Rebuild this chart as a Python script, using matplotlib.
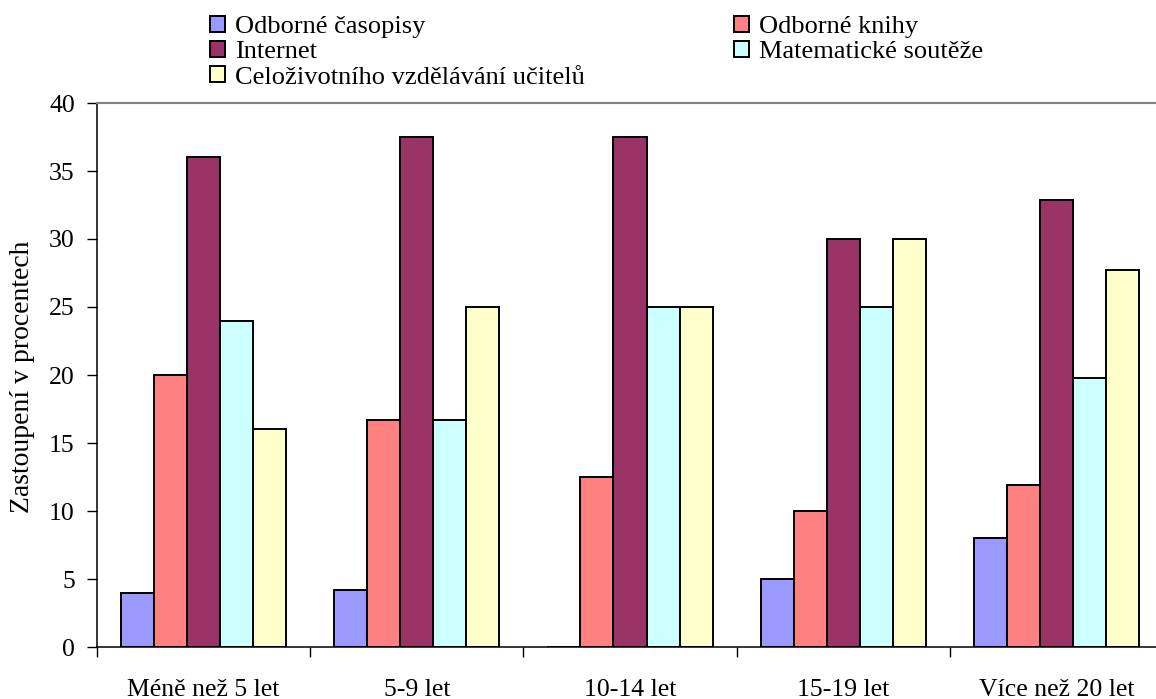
import matplotlib
matplotlib.use('Agg')
import matplotlib.pyplot as plt
import numpy as np

# Groups by length of teaching practice
categories = ['Méně než 5 let', '5-9 let', '10-14 let', '15-19 let', 'Více než 20 let']

series_names = ['Odborné časopisy', 'Odborné knihy', 'Internet',
                'Matematické soutěže', 'Celoživotního vzdělávání učitelů']

odborne_casopisy = [4.0, 4.17, 0.0, 5.0, 8.0]
odborne_knihy = [20.0, 16.67, 12.5, 10.0, 11.9]
internet = [36.0, 37.5, 37.5, 30.0, 32.9]
matematicke_souteze = [24.0, 16.67, 25.0, 25.0, 19.8]
celozivotni = [16.0, 25.0, 25.0, 30.0, 27.7]

colors = ['#9999FF', '#FF8080', '#993366', '#CCFFFF', '#FFFFCC']

plt.rcParams['font.family'] = ['Liberation Serif', 'DejaVu Serif']

fig = plt.figure(figsize=(11.56, 6.99), dpi=100)
ax = fig.add_axes([97 / 1156, 52 / 699, 1066 / 1156, 544 / 699])

x = np.arange(len(categories))
width = 0.155
handles = []
all_series = [odborne_casopisy, odborne_knihy, internet, matematicke_souteze, celozivotni]
for i, (name, vals) in enumerate(zip(series_names, all_series)):
    bars = ax.bar(x + (i - 2) * width, vals, width, color=colors[i],
                  edgecolor='black', linewidth=1.4, label=name)
    handles.append(bars)

ax.set_xlim(-0.5, len(categories) - 0.5)
ax.set_ylim(0, 40)
ax.set_yticks(range(0, 41, 5))

# category labels centred, tick marks only on group boundaries
ax.set_xticks(x)
ax.set_xticklabels(categories)
ax.set_xticks(np.arange(-0.5, len(categories), 1), minor=True)
ax.tick_params(axis='x', which='major', length=0, pad=23, labelsize=18.5)
ax.tick_params(axis='x', which='minor', length=7, width=1, direction='out')
ax.tick_params(axis='y', length=7, width=1, direction='out', pad=9, labelsize=18.5)

for side in ['left', 'bottom']:
    ax.spines[side].set_linewidth(1.1)
ax.spines['right'].set_visible(False)
ax.spines['top'].set_color('#808080')
ax.spines['top'].set_linewidth(1.5)

fig.text(23 / 1156, 322 / 699, 'Zastoupení v procentech',
         rotation=90, ha='center', va='center', fontsize=20)

# legend filled column by column -> reorder to read row by row
order = [0, 2, 4, 1, 3]
fig.legend([handles[k] for k in order], [series_names[k] for k in order],
           loc='upper left', bbox_to_anchor=(210 / 1156, 1 - 16 / 699),
           ncol=2, frameon=False, fontsize=19, borderpad=0,
           handlelength=0.55, handleheight=0.55, handletextpad=0.4,
           labelspacing=0.11, columnspacing=5.65, borderaxespad=0)

fig.savefig('out.png', dpi=100)
